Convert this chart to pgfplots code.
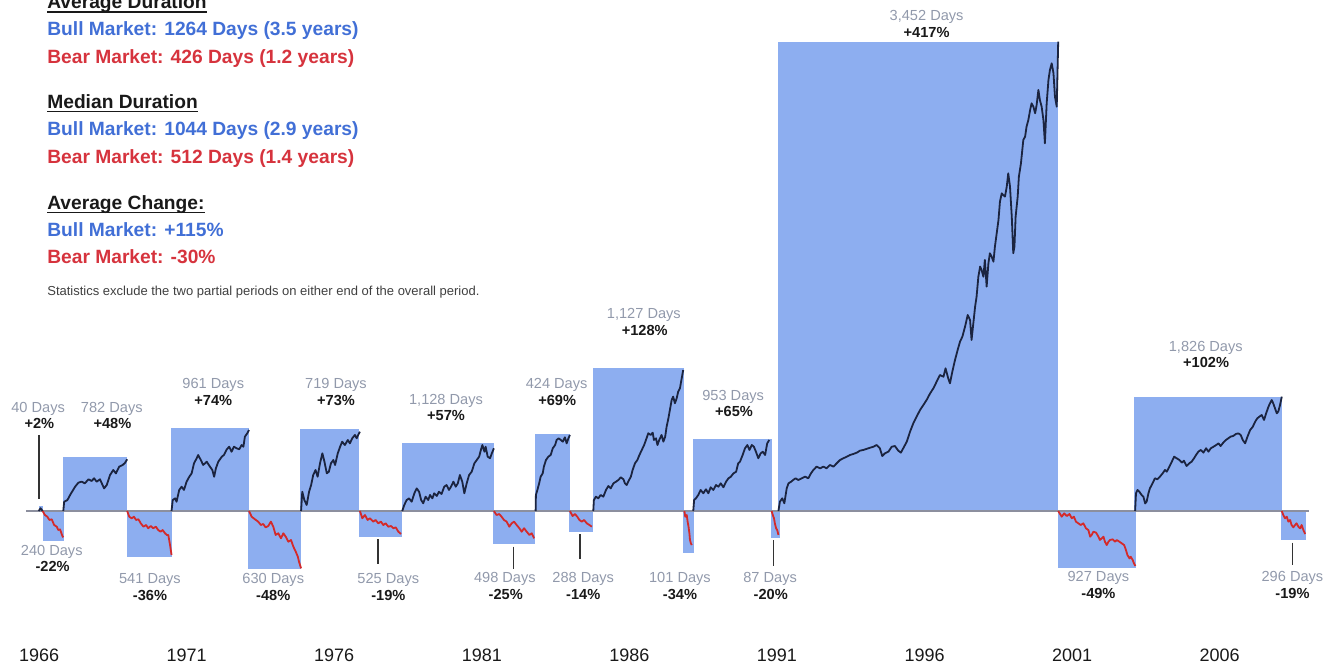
\documentclass[border=0pt]{standalone}
\usepackage{fontspec}
\setmainfont{Liberation Sans}
\usepackage{pgfplots}
\pgfplotsset{compat=1.18}
\definecolor{barblue}{HTML}{8DAEF0}
\definecolor{bullline}{HTML}{1B2440}
\definecolor{bearline}{HTML}{D42A2A}
\definecolor{basegray}{HTML}{8C8F9E}
\definecolor{lblgray}{HTML}{9199AB}
\definecolor{txtblue}{HTML}{416FD6}
\definecolor{txtred}{HTML}{D6333D}
\newcommand\ul[1]{\setbox0\hbox{#1}\rlap{\rule[-2.1pt]{\wd0}{0.9pt}}\box0}
\newcommand\mkt[3]{\addplot[fill=barblue,draw=none] coordinates {(#1,0) (#1,#3) (#2,#3) (#2,0)} -- cycle;}
\tikzset{
  bull/.style={draw=bullline, line width=0.9pt, line join=round},
  bear/.style={draw=bearline, line width=0.9pt, line join=round},
  ptr/.style={draw=black!80, line width=0.9pt},
  dl/.style={anchor=base, font=\fontsize{7.3}{8}\selectfont, text=lblgray},
  pl/.style={anchor=base, font=\fontsize{7.3}{8}\selectfont\bfseries, text=black!90},
  yl/.style={anchor=base, font=\fontsize{9}{10}\selectfont, text=black!90},
  tl/.style={anchor=base west, inner sep=0pt, font=\fontsize{9.6}{11}\selectfont\bfseries},
}
\begin{document}
\begin{tikzpicture}
\begin{axis}[
  at={(0,0)}, anchor=south west,
  width=663pt, height=332pt, scale only axis,
  xmin=1964.58, xmax=2009.415, ymin=-136.6, ymax=456.25,
  hide axis, clip=false,
]
% market rectangles: start year, end year, height
\mkt{1965.89}{1966.02}{4.5}
\mkt{1966.02}{1966.74}{-26.5}
\mkt{1966.72}{1968.88}{48}
\mkt{1968.86}{1970.38}{-40.8}
\mkt{1970.35}{1973.01}{74}
\mkt{1972.98}{1974.76}{-52.1}
\mkt{1974.72}{1976.73}{73}
\mkt{1976.73}{1978.18}{-23.5}
\mkt{1978.16}{1981.28}{61}
\mkt{1981.26}{1982.67}{-29.5}
\mkt{1982.67}{1983.85}{69}
\mkt{1983.82}{1984.62}{-18.5}
\mkt{1984.62}{1987.72}{128}
\mkt{1987.69}{1988.03}{-37.2}
\mkt{1988.01}{1990.67}{64}
\mkt{1990.64}{1990.94}{-24.5}
\mkt{1990.90}{2000.36}{419}
\mkt{2000.36}{2002.99}{-51.2}
\mkt{2002.92}{2007.92}{102}
\mkt{2007.88}{2008.73}{-25.9}
% baseline
\addplot[draw=basegray, line width=1pt] coordinates {(1965.46,0) (2008.84,0)};
% price paths
\addplot[bull] coordinates {(1965.89,0) (1965.95,2.5) (1966.02,0)};
\addplot[bear] coordinates {(1966.02,0) (1966.10,-3.6) (1966.18,-5.1) (1966.25,-8.0) (1966.33,-7.4) (1966.41,-12.5) (1966.50,-14.0) (1966.55,-17.0) (1966.61,-16.4) (1966.69,-22.3) (1966.72,-23.5)};
\addplot[bull] coordinates {(1966.72,0) (1966.75,8.3) (1966.86,9.8) (1966.97,15.2) (1967.12,21.7) (1967.23,25.3) (1967.34,26.2) (1967.45,24.7) (1967.57,28.3) (1967.68,26.8) (1967.76,29.2) (1967.85,26.2) (1967.96,28.3) (1968.10,20.2) (1968.19,23.2) (1968.30,32.1) (1968.41,36.6) (1968.50,33.6) (1968.61,39.6) (1968.73,41.1) (1968.81,43.1) (1968.88,46.2)};
\addplot[bear] coordinates {(1968.88,0) (1968.95,-5.1) (1969.03,-6.5) (1969.11,-5.1) (1969.18,-8.0) (1969.26,-7.4) (1969.34,-11.0) (1969.43,-14.0) (1969.52,-12.5) (1969.59,-15.4) (1969.68,-13.4) (1969.76,-15.4) (1969.85,-14.0) (1969.93,-17.0) (1970.01,-18.5) (1970.08,-17.0) (1970.16,-19.9) (1970.22,-21.4) (1970.27,-21.4) (1970.33,-30.4) (1970.38,-39.3)};
\addplot[bull] coordinates {(1970.38,0) (1970.42,9.8) (1970.50,11.3) (1970.55,8.3) (1970.64,18.8) (1970.72,21.7) (1970.80,18.8) (1970.89,26.2) (1970.98,30.6) (1971.06,33.6) (1971.14,42.6) (1971.23,47.1) (1971.28,50.0) (1971.37,45.5) (1971.45,41.1) (1971.57,44.0) (1971.68,39.6) (1971.76,36.6) (1971.82,30.6) (1971.88,38.1) (1971.96,44.0) (1972.08,48.5) (1972.15,50.0) (1972.25,55.1) (1972.33,57.4) (1972.41,52.9) (1972.49,57.4) (1972.58,56.0) (1972.67,55.1) (1972.75,58.9) (1972.81,57.4) (1972.86,66.3) (1972.94,69.4) (1973.00,72.3)};
\addplot[bear] coordinates {(1973.00,0) (1973.09,-5.1) (1973.20,-7.4) (1973.31,-9.5) (1973.40,-12.5) (1973.48,-11.6) (1973.56,-14.6) (1973.65,-13.4) (1973.74,-9.5) (1973.82,-14.0) (1973.90,-21.4) (1973.99,-19.9) (1974.08,-24.4) (1974.16,-19.9) (1974.24,-22.9) (1974.33,-27.4) (1974.42,-25.9) (1974.50,-31.9) (1974.58,-36.3) (1974.65,-40.8) (1974.69,-45.3) (1974.76,-51.2)};
\addplot[bull] coordinates {(1974.76,0) (1974.80,17.2) (1974.87,9.8) (1974.95,5.4) (1975.03,17.2) (1975.10,23.2) (1975.17,32.1) (1975.25,36.6) (1975.32,30.6) (1975.40,42.6) (1975.48,51.5) (1975.55,44.0) (1975.63,33.6) (1975.70,35.1) (1975.77,42.6) (1975.85,45.5) (1975.91,41.1) (1976.00,51.5) (1976.08,57.4) (1976.15,61.9) (1976.24,58.9) (1976.34,63.4) (1976.41,60.4) (1976.49,64.9) (1976.58,67.9) (1976.64,64.9) (1976.69,67.9) (1976.75,70.8)};
\addplot[bear] coordinates {(1976.75,0) (1976.83,-6.5) (1976.92,-3.6) (1977.01,-8.0) (1977.09,-6.5) (1977.20,-9.5) (1977.28,-8.0) (1977.37,-11.0) (1977.46,-9.5) (1977.54,-12.5) (1977.62,-11.0) (1977.71,-14.0) (1977.80,-13.4) (1977.88,-15.4) (1977.96,-14.6) (1978.05,-18.5) (1978.14,-20.5)};
\addplot[bull] coordinates {(1978.18,0) (1978.25,5.4) (1978.33,9.8) (1978.41,11.3) (1978.50,8.3) (1978.59,15.8) (1978.67,20.2) (1978.75,17.2) (1978.82,9.8) (1978.89,6.9) (1978.97,12.8) (1979.06,9.8) (1979.12,14.3) (1979.20,11.3) (1979.26,15.8) (1979.35,13.4) (1979.42,17.2) (1979.51,15.2) (1979.60,21.7) (1979.68,23.2) (1979.76,18.8) (1979.83,21.7) (1979.91,26.2) (1979.99,21.7) (1980.06,24.7) (1980.13,32.1) (1980.21,26.2) (1980.28,15.8) (1980.36,24.7) (1980.44,32.1) (1980.53,35.1) (1980.62,42.6) (1980.70,45.5) (1980.78,48.5) (1980.84,54.5) (1980.89,58.9) (1980.96,52.9) (1981.00,57.4) (1981.07,48.5) (1981.15,47.1) (1981.21,51.5) (1981.28,56.0)};
\addplot[bear] coordinates {(1981.28,0) (1981.37,-3.6) (1981.46,-2.7) (1981.54,-5.1) (1981.62,-8.0) (1981.71,-9.5) (1981.80,-14.0) (1981.88,-11.0) (1981.96,-9.5) (1982.05,-12.5) (1982.14,-15.4) (1982.22,-18.5) (1982.30,-15.4) (1982.39,-18.5) (1982.48,-21.4) (1982.56,-19.9) (1982.64,-24.4)};
\addplot[bull] coordinates {(1982.69,0) (1982.70,14.3) (1982.75,18.8) (1982.81,24.7) (1982.86,30.6) (1982.93,33.6) (1982.97,39.6) (1983.04,45.5) (1983.12,48.5) (1983.20,50.0) (1983.27,56.0) (1983.35,58.9) (1983.40,63.4) (1983.47,64.9) (1983.54,63.4) (1983.61,61.9) (1983.68,65.8) (1983.74,60.4) (1983.80,64.9) (1983.85,67.9)};
\addplot[bear] coordinates {(1983.85,0) (1983.94,-4.5) (1984.02,-2.7) (1984.10,-5.1) (1984.17,-8.0) (1984.25,-9.5) (1984.33,-8.0) (1984.42,-11.0) (1984.51,-12.5) (1984.59,-14.0)};
\addplot[bull] coordinates {(1984.64,0) (1984.66,9.8) (1984.73,12.8) (1984.81,11.3) (1984.89,14.3) (1984.98,12.8) (1985.07,18.8) (1985.15,22.3) (1985.23,20.2) (1985.32,24.7) (1985.41,26.2) (1985.49,27.7) (1985.57,30.1) (1985.66,28.3) (1985.71,24.7) (1985.77,23.2) (1985.82,26.2) (1985.91,30.6) (1985.97,36.6) (1986.05,42.6) (1986.13,45.5) (1986.20,50.0) (1986.28,54.5) (1986.36,58.9) (1986.42,63.4) (1986.50,69.4) (1986.58,67.9) (1986.65,69.9) (1986.69,63.4) (1986.76,64.9) (1986.81,58.9) (1986.87,63.4) (1986.95,67.9) (1987.01,61.9) (1987.07,66.3) (1987.12,75.3) (1987.18,82.8) (1987.23,90.2) (1987.29,99.1) (1987.34,102.1) (1987.40,96.2) (1987.46,100.6) (1987.51,106.5) (1987.57,109.6) (1987.63,118.5) (1987.68,125.9)};
\addplot[bear] coordinates {(1987.72,0) (1987.75,-5.1) (1987.80,-3.6) (1987.83,-9.5) (1987.86,-14.0) (1987.89,-19.9) (1987.91,-25.9) (1987.94,-28.9) (1987.97,-30.4)};
\addplot[bull] coordinates {(1988.02,0) (1988.05,9.8) (1988.11,11.3) (1988.19,14.3) (1988.27,18.8) (1988.36,15.8) (1988.45,19.4) (1988.53,15.8) (1988.61,21.2) (1988.70,18.8) (1988.79,23.2) (1988.87,21.7) (1988.95,24.7) (1989.04,21.2) (1989.13,26.2) (1989.21,29.2) (1989.29,30.6) (1989.38,33.6) (1989.47,35.1) (1989.54,42.6) (1989.60,44.0) (1989.69,50.0) (1989.77,56.0) (1989.85,58.9) (1989.92,54.5) (1990.00,58.9) (1990.07,57.4) (1990.14,52.9) (1990.22,47.1) (1990.30,51.5) (1990.37,52.9) (1990.45,50.0) (1990.52,60.4) (1990.59,63.4)};
\addplot[bear] coordinates {(1990.67,0) (1990.71,-3.6) (1990.75,-6.5) (1990.78,-11.0) (1990.82,-15.4) (1990.86,-17.0) (1990.90,-21.4)};
\addplot[bull] coordinates {(1990.90,0) (1990.95,8.3) (1991.03,11.3) (1991.10,6.9) (1991.18,20.2) (1991.24,24.7) (1991.33,26.2) (1991.40,27.7) (1991.48,29.2) (1991.57,27.7) (1991.69,29.2) (1991.80,30.7) (1991.91,29.2) (1992.00,33.6) (1992.08,36.6) (1992.19,39.6) (1992.31,38.1) (1992.42,39.6) (1992.53,38.1) (1992.64,41.1) (1992.76,39.6) (1992.87,42.6) (1992.98,45.5) (1993.09,47.0) (1993.21,48.5) (1993.32,50.0) (1993.43,50.9) (1993.55,52.1) (1993.66,53.9) (1993.77,54.5) (1993.94,56.0) (1994.11,57.4) (1994.22,58.9) (1994.33,56.0) (1994.41,49.1) (1994.50,51.5) (1994.62,53.0) (1994.73,57.4) (1994.84,58.0) (1994.95,53.9) (1995.04,52.1) (1995.12,56.0) (1995.24,61.9) (1995.35,70.8) (1995.46,78.3) (1995.57,84.2) (1995.69,90.2) (1995.80,94.6) (1995.91,99.1) (1996.03,105.1) (1996.14,109.5) (1996.25,115.5) (1996.36,121.4) (1996.48,119.9) (1996.55,127.4) (1996.64,118.5) (1996.70,114.0) (1996.78,124.4) (1996.87,134.8) (1996.96,143.8) (1997.04,151.2) (1997.12,155.7) (1997.21,164.6) (1997.30,175.0) (1997.38,170.5) (1997.43,152.7) (1997.49,167.6) (1997.55,182.4) (1997.60,191.4) (1997.66,209.2) (1997.72,218.2) (1997.77,215.2) (1997.83,209.2) (1997.88,224.1) (1997.94,200.3) (1998.00,221.1) (1998.05,230.1) (1998.11,227.1) (1998.17,222.6) (1998.22,236.0) (1998.28,247.9) (1998.34,259.8) (1998.39,276.2) (1998.45,283.6) (1998.50,282.1) (1998.56,280.7) (1998.62,289.6) (1998.67,301.5) (1998.73,289.6) (1998.79,262.8) (1998.84,230.1) (1998.88,236.0) (1998.92,262.8) (1998.99,280.7) (1999.03,298.5) (1999.10,310.4) (1999.18,331.3) (1999.24,334.2) (1999.29,343.2) (1999.35,349.1) (1999.41,358.0) (1999.46,364.0) (1999.52,361.0) (1999.58,355.1) (1999.63,362.5) (1999.69,375.9) (1999.74,367.0) (1999.80,361.0) (1999.86,349.1) (1999.91,328.3) (1999.97,364.0) (2000.03,384.8) (2000.08,393.8) (2000.14,399.7) (2000.20,390.8) (2000.25,369.9) (2000.31,361.0) (2000.36,419)};
\addplot[bear] coordinates {(2000.36,0) (2000.48,-5.1) (2000.56,-2.1) (2000.65,-4.5) (2000.74,-2.7) (2000.82,-6.5) (2000.89,-5.1) (2000.96,-9.5) (2001.04,-11.0) (2001.12,-12.5) (2001.21,-11.0) (2001.30,-15.5) (2001.38,-17.0) (2001.44,-22.9) (2001.49,-21.4) (2001.55,-18.5) (2001.64,-19.3) (2001.72,-22.9) (2001.77,-25.9) (2001.83,-24.4) (2001.89,-22.9) (2001.94,-27.4) (2002.00,-30.4) (2002.06,-27.4) (2002.11,-25.9) (2002.20,-25.3) (2002.28,-27.4) (2002.34,-25.9) (2002.43,-27.4) (2002.51,-28.9) (2002.59,-30.4) (2002.65,-34.8) (2002.70,-39.3) (2002.77,-42.3) (2002.81,-40.8) (2002.88,-43.8) (2002.92,-46.7) (2002.97,-49.1)};
\addplot[bull] coordinates {(2002.96,0) (2002.99,15.8) (2003.04,18.8) (2003.10,17.3) (2003.18,14.3) (2003.24,12.8) (2003.30,6.8) (2003.35,8.3) (2003.41,15.8) (2003.46,20.2) (2003.55,24.7) (2003.63,29.2) (2003.71,28.3) (2003.80,30.7) (2003.89,33.6) (2003.97,36.6) (2004.03,35.1) (2004.12,39.6) (2004.20,44.0) (2004.28,48.5) (2004.37,47.0) (2004.46,45.5) (2004.54,43.2) (2004.61,44.9) (2004.70,40.2) (2004.79,42.6) (2004.87,44.0) (2004.95,47.0) (2005.02,50.0) (2005.10,53.0) (2005.18,54.5) (2005.27,52.1) (2005.36,56.0) (2005.44,53.0) (2005.52,56.0) (2005.61,57.4) (2005.70,58.9) (2005.78,60.4) (2005.85,58.0) (2005.94,61.0) (2006.03,63.4) (2006.11,64.9) (2006.19,66.4) (2006.28,67.0) (2006.37,68.8) (2006.45,69.3) (2006.53,67.9) (2006.60,63.4) (2006.68,60.4) (2006.76,66.4) (2006.85,72.3) (2006.94,75.3) (2007.02,79.8) (2007.09,82.7) (2007.16,84.2) (2007.24,85.7) (2007.32,81.3) (2007.39,87.2) (2007.47,93.2) (2007.52,96.1) (2007.58,99.1) (2007.63,96.1) (2007.69,91.7) (2007.75,87.2) (2007.80,88.7) (2007.86,94.6) (2007.92,102.1)};
\addplot[bear] coordinates {(2007.92,0) (2007.97,-3.6) (2008.03,-6.5) (2008.09,-5.1) (2008.14,-9.5) (2008.20,-8.0) (2008.25,-12.5) (2008.31,-14.6) (2008.37,-12.5) (2008.42,-11.0) (2008.48,-14.0) (2008.54,-15.5) (2008.59,-12.5) (2008.65,-17.0) (2008.71,-20.5)};
% pointer lines
\addplot[ptr] coordinates {(1965.90,67.9) (1965.90,10.7)};
\addplot[ptr] coordinates {(1977.37,-25.3) (1977.37,-47.3)};
\addplot[ptr] coordinates {(1981.94,-31.9) (1981.94,-52.1)};
\addplot[ptr] coordinates {(1984.19,-20.8) (1984.19,-43.1)};
\addplot[ptr] coordinates {(1990.73,-25.9) (1990.73,-49.1)};
\addplot[ptr] coordinates {(2008.28,-28.3) (2008.28,-48.2)};
% bull labels
\node[dl] at (axis cs:1965.87,87.8) {40 Days};
\node[pl] at (axis cs:1965.91,73.8) {+2\%};
\node[dl] at (axis cs:1968.36,87.8) {782 Days};
\node[pl] at (axis cs:1968.38,73.8) {+48\%};
\node[dl] at (axis cs:1971.79,109.6) {961 Days};
\node[pl] at (axis cs:1971.79,94.6) {+74\%};
\node[dl] at (axis cs:1975.94,109.6) {719 Days};
\node[pl] at (axis cs:1975.94,94.6) {+73\%};
\node[dl] at (axis cs:1979.66,95.5) {1,128 Days};
\node[pl] at (axis cs:1979.66,80.6) {+57\%};
\node[dl] at (axis cs:1983.40,109.6) {424 Days};
\node[pl] at (axis cs:1983.42,93.8) {+69\%};
\node[dl] at (axis cs:1986.35,172.1) {1,127 Days};
\node[pl] at (axis cs:1986.38,157.1) {+128\%};
\node[dl] at (axis cs:1989.37,99.1) {953 Days};
\node[pl] at (axis cs:1989.40,84.2) {+65\%};
\node[dl] at (axis cs:1995.91,438.1) {3,452 Days};
\node[pl] at (axis cs:1995.91,422.9) {+417\%};
\node[dl] at (axis cs:2005.35,142.2) {1,826 Days};
\node[pl] at (axis cs:2005.36,127.9) {+102\%};
% bear labels
\node[dl] at (axis cs:1966.33,-39.3) {240 Days};
\node[pl] at (axis cs:1966.36,-54.2) {-22\%};
\node[dl] at (axis cs:1969.65,-64.6) {541 Days};
\node[pl] at (axis cs:1969.65,-79.5) {-36\%};
\node[dl] at (axis cs:1973.82,-64.6) {630 Days};
\node[pl] at (axis cs:1973.82,-79.5) {-48\%};
\node[dl] at (axis cs:1977.71,-64.6) {525 Days};
\node[pl] at (axis cs:1977.71,-79.5) {-19\%};
\node[dl] at (axis cs:1981.65,-64.0) {498 Days};
\node[pl] at (axis cs:1981.68,-78.8) {-25\%};
\node[dl] at (axis cs:1984.30,-64.0) {288 Days};
\node[pl] at (axis cs:1984.30,-78.8) {-14\%};
\node[dl] at (axis cs:1987.57,-64.0) {101 Days};
\node[pl] at (axis cs:1987.57,-78.8) {-34\%};
\node[dl] at (axis cs:1990.62,-64.0) {87 Days};
\node[pl] at (axis cs:1990.64,-78.8) {-20\%};
\node[dl] at (axis cs:2001.72,-63.1) {927 Days};
\node[pl] at (axis cs:2001.72,-77.9) {-49\%};
\node[dl] at (axis cs:2008.28,-63.1) {296 Days};
\node[pl] at (axis cs:2008.28,-77.9) {-19\%};
% year labels
\node[yl] at (axis cs:1965.90,-134.6) {1966};
\node[yl] at (axis cs:1970.89,-134.6) {1971};
\node[yl] at (axis cs:1975.88,-134.6) {1976};
\node[yl] at (axis cs:1980.87,-134.6) {1981};
\node[yl] at (axis cs:1985.86,-134.6) {1986};
\node[yl] at (axis cs:1990.85,-134.6) {1991};
\node[yl] at (axis cs:1995.84,-134.6) {1996};
\node[yl] at (axis cs:2000.83,-134.6) {2001};
\node[yl] at (axis cs:2005.82,-134.6) {2006};
% statistics block
\node[tl, text=black!90] at (rel axis cs:0.0354,0.9872) {\ul{Average Duration}};
\node[tl, text=txtblue] at (rel axis cs:0.0354,0.9458) {Bull Market: 1264 Days (3.5 years)};
\node[tl, text=txtred] at (rel axis cs:0.0354,0.9047) {Bear Market: 426 Days (1.2 years)};
\node[tl, text=black!90] at (rel axis cs:0.0354,0.8369) {\ul{Median Duration}};
\node[tl, text=txtblue] at (rel axis cs:0.0354,0.7952) {Bull Market: 1044 Days (2.9 years)};
\node[tl, text=txtred] at (rel axis cs:0.0354,0.7541) {Bear Market: 512 Days (1.4 years)};
\node[tl, text=black!90] at (rel axis cs:0.0354,0.6848) {\ul{Average Change:}};
\node[tl, text=txtblue] at (rel axis cs:0.0354,0.6435) {Bull Market: +115\%};
\node[tl, text=txtred] at (rel axis cs:0.0354,0.6035) {Bear Market: -30\%};
\node[anchor=base west, inner sep=0pt, font=\fontsize{6.5}{7}\selectfont, text=black!75] at (rel axis cs:0.0354,0.5547) {Statistics exclude the two partial periods on either end of the overall period.};
\end{axis}
\pgfresetboundingbox
\path[use as bounding box] (0,0) rectangle (663pt,332pt);
\end{tikzpicture}
\end{document}
